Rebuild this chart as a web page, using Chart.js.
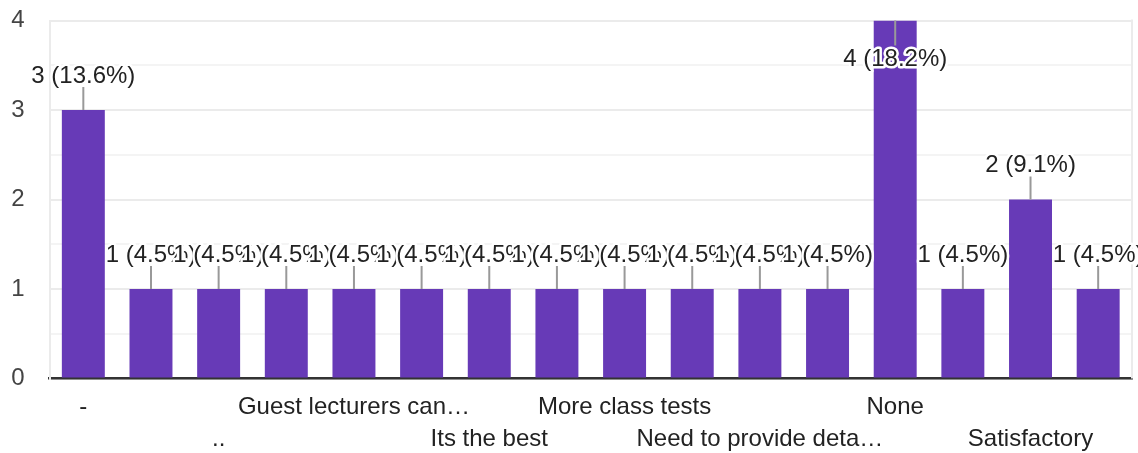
<!DOCTYPE html>
<html>
<head>
<meta charset="utf-8">
<script src="https://cdn.jsdelivr.net/npm/chart.js@4/dist/chart.umd.min.js"></script>
<style>
    html, body { margin: 0; padding: 0; background: #fff; }
    #wrap { width: 1138px; height: 453px; position: relative; }
</style>
</head>
<body>
<div id="wrap"><canvas id="chart"></canvas></div>
<script>
// Answers (sorted like the form summary); labels of odd bars are hidden in the picture
let categories = [
    "-", "", "..", "", "Guest lecturers can\u2026", "", "Its the best", "",
    "More class tests", "", "Need to provide deta\u2026", "", "None", "", "Satisfactory", ""
];
let counts = [3, 1, 1, 1, 1, 1, 1, 1, 1, 1, 1, 1, 4, 1, 2, 1];
let yTicks = [0, 1, 2, 3, 4];

let total = counts.reduce((a, b) => a + b, 0);

const FONT = "'Liberation Sans', Arial, sans-serif";

// Value labels with leader lines, like the forms summary
const valueLabels = {
    id: "valueLabels",
    afterDatasetsDraw(chart) {
        const ctx = chart.ctx;
        const bars = chart.getDatasetMeta(0).data;
        let spots = [];

        ctx.save();
        ctx.strokeStyle = "#999";
        ctx.lineWidth = 2;
        bars.forEach((bar, i) => {
            let y0 = bar.y;
            let flip = y0 - 45 < 0;
            ctx.beginPath();
            if (flip) {
                ctx.moveTo(bar.x, y0);
                ctx.lineTo(bar.x, y0 + 25);
                spots.push([bar.x, y0 + 39]);
            } else {
                ctx.moveTo(bar.x, y0);
                ctx.lineTo(bar.x, y0 - 23);
                spots.push([bar.x, y0 - 34]);
            }
            ctx.stroke();
        });

        ctx.font = "24px " + FONT;
        ctx.textAlign = "center";
        ctx.textBaseline = "middle";
        ctx.lineJoin = "round";
        spots.forEach((p, i) => {
            let pct = (counts[i] / total * 100).toFixed(1);
            let txt = counts[i] + " (" + pct + "%)";
            ctx.strokeStyle = "#fff";
            ctx.lineWidth = 5;
            ctx.strokeText(txt, p[0], p[1]);
            ctx.fillStyle = "#222";
            ctx.fillText(txt, p[0], p[1]);
        });
        ctx.restore();
    }
};

// Light border on the right side of the plot
const rightBorder = {
    id: "rightBorder",
    beforeDatasetsDraw(chart) {
        const a = chart.chartArea;
        const ctx = chart.ctx;
        ctx.save();
        ctx.strokeStyle = "#ebebeb";
        ctx.lineWidth = 2;
        ctx.beginPath();
        ctx.moveTo(a.right, a.top - 1);
        ctx.lineTo(a.right, a.bottom);
        ctx.stroke();
        ctx.restore();
    }
};

new Chart(document.getElementById("chart"), {
    type: "bar",
    data: {
        labels: categories,
        datasets: [{
            data: counts,
            backgroundColor: "#673ab7",
            barPercentage: 0.635,
            categoryPercentage: 1
        }]
    },
    options: {
        responsive: true,
        maintainAspectRatio: false,
        animation: false,
        layout: { padding: { top: 20.5, right: 6, left: 0, bottom: 0 } },
        plugins: {
            legend: { display: false },
            tooltip: { enabled: false }
        },
        scales: {
            x: {
                grid: { display: false },
                border: { color: "#333", width: 2.5 },
                afterFit(scale) {
                    scale.height = 74.5;
                    scale.paddingLeft = 0;
                    scale.paddingRight = 0;
                },
                ticks: {
                    autoSkip: false,
                    maxRotation: 0,
                    minRotation: 0,
                    padding: 5,
                    color: "#222",
                    font: { family: FONT, size: 24, lineHeight: 1.333 },
                    callback(value, index) {
                        let lab = categories[index];
                        if (index % 4 === 0) return lab;
                        if (index % 4 === 2) return ["", lab];
                        return "";
                    }
                }
            },
            y: {
                min: yTicks[0],
                max: yTicks[yTicks.length - 1],
                afterFit(scale) {
                    scale.width = 49.5;
                    scale.paddingTop = 0;
                    scale.paddingBottom = 0;
                },
                afterBuildTicks(scale) {
                    let t = [];
                    yTicks.forEach((v, i) => {
                        t.push({ value: v });
                        if (i < yTicks.length - 1) t.push({ value: v + 0.5 });
                    });
                    scale.ticks = t;
                },
                border: { color: "#ebebeb", width: 2 },
                grid: {
                    drawTicks: false,
                    color: c => (Number.isInteger(c.tick.value) ? "#ebebeb" : "#f4f4f4"),
                    lineWidth: 2
                },
                ticks: {
                    padding: 25,
                    color: "#444",
                    font: { family: FONT, size: 24 },
                    callback: v => (Number.isInteger(v) ? v : "")
                }
            }
        }
    },
    plugins: [rightBorder, valueLabels]
});
</script>
</body>
</html>
